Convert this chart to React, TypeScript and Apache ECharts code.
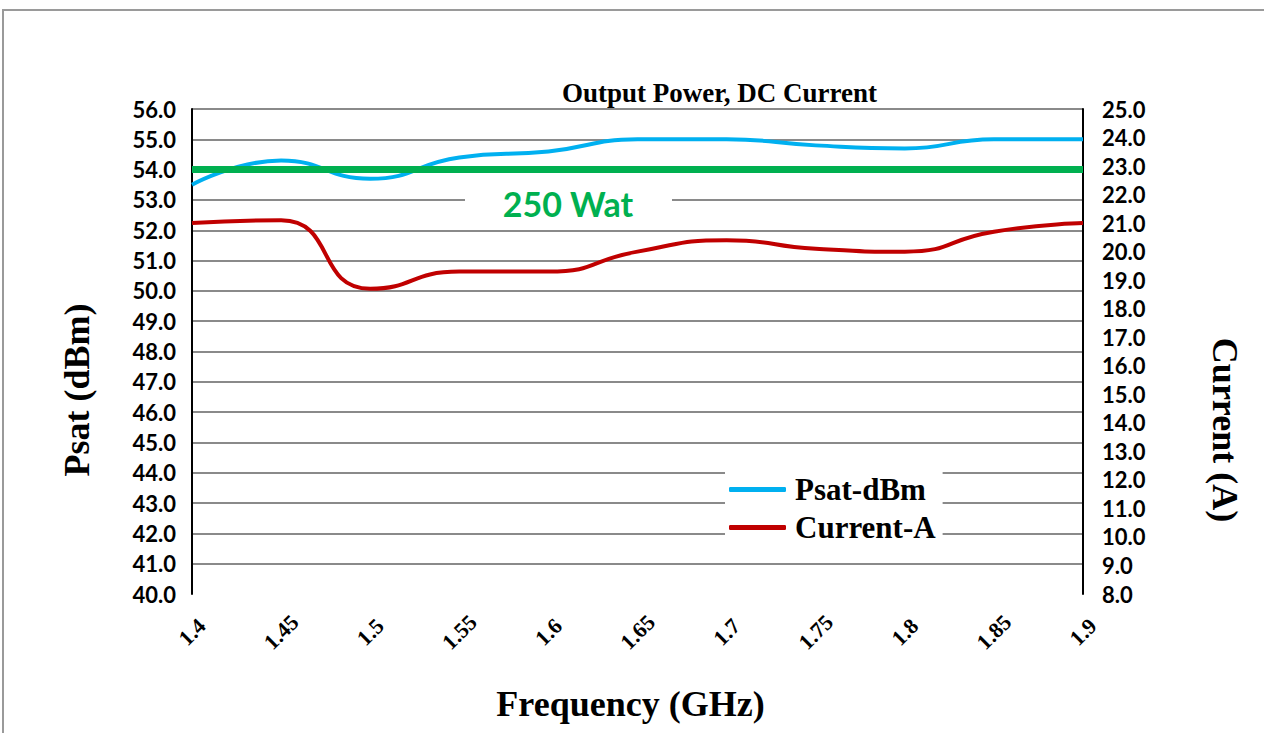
import React, { useEffect, useRef } from "react";
import * as echarts from "echarts";

const frequencies = ["1.4", "1.45", "1.5", "1.55", "1.6", "1.65", "1.7", "1.75", "1.8", "1.85", "1.9"];
const psatDbm = [53.5, 54.3, 53.7, 54.4, 54.6, 55.0, 55.0, 54.8, 54.7, 55.0, 55.0];
const currentA = [21.0, 21.1, 18.7, 19.3, 19.3, 20.0, 20.4, 20.1, 20.0, 20.7, 21.0];
const referenceLevel = 54.0;
const referenceLabel = "250 Wat";
const titleText = "Output Power, DC Current";
const leftAxisName = "Psat (dBm)";
const rightAxisName = "Current (A)";
const xAxisName = "Frequency (GHz)";
const seriesNames = ["Psat-dBm", "Current-A"];

export default function App() {
  const ref = useRef<HTMLDivElement>(null);
  useEffect(() => {
    if (!ref.current) return;
    const chart = echarts.init(ref.current, undefined, { renderer: "svg" });
    const gridColors = ["rgba(0,0,0,0)"];
    for (let i = 0; i < 16; i++) gridColors.push("#8a8a8a");
    const serifFamily = "'Liberation Serif', 'Times New Roman', serif";
    const serifBold = { fontFamily: serifFamily, fontWeight: "bold" as const, color: "#000" };
    const sansLabel = {
      fontFamily: "Lato, 'Open Sans', sans-serif",
      fontWeight: "bold" as const,
      fontSize: 22,
      color: "#000",
    };
    chart.setOption({
      animation: false,
      backgroundColor: "#fff",
      title: {
        text: titleText,
        left: 562,
        top: 79,
        padding: 0,
        textStyle: { ...serifBold, fontSize: 27 },
      },
      grid: { left: 192, right: 181, top: 109, bottom: 139 },
      legend: {
        data: seriesNames,
        orient: "vertical",
        left: 725,
        top: 469,
        backgroundColor: "#fff",
        padding: [4, 7, 6, 4],
        itemWidth: 57,
        itemHeight: 5,
        icon: "roundRect",
        itemGap: 5,
        textStyle: { ...serifBold, fontSize: 31, lineHeight: 33, padding: [0, 0, 0, 4] },
      },
      xAxis: {
        type: "category",
        data: frequencies,
        boundaryGap: false,
        axisLine: { show: false },
        axisTick: { show: false },
        axisLabel: {
          rotate: 45,
          align: "center",
          verticalAlign: "middle",
          margin: 38,
          ...serifBold,
          fontSize: 22,
        },
        name: xAxisName,
        nameLocation: "middle",
        nameGap: 92,
        nameTextStyle: { ...serifBold, fontSize: 36, padding: [0, 14, 0, 0] },
      },
      yAxis: [
        {
          type: "value",
          min: 40,
          max: 56,
          interval: 1,
          axisLine: { show: true, lineStyle: { color: "#000", width: 2 } },
          axisTick: { show: false },
          axisLabel: { formatter: (v: number) => v.toFixed(1), ...sansLabel, margin: 16 },
          splitLine: { show: true, lineStyle: { color: gridColors, width: 2 } },
        },
        {
          type: "value",
          min: 8,
          max: 25,
          interval: 1,
          position: "right",
          axisLine: { show: true, lineStyle: { color: "#000", width: 2 } },
          axisTick: { show: false },
          axisLabel: { formatter: (v: number) => v.toFixed(1), ...sansLabel, margin: 19 },
          splitLine: { show: false },
        },
      ],
      series: [
        {
          name: seriesNames[0],
          type: "line",
          data: psatDbm,
          yAxisIndex: 0,
          smooth: 0.5,
          showSymbol: false,
          lineStyle: { color: "#00B0F0", width: 4 },
          itemStyle: { color: "#00B0F0" },
          z: 2,
          markLine: {
            silent: true,
            symbol: "none",
            label: { show: false },
            lineStyle: { color: "#00B050", width: 7, type: "solid" },
            data: [{ yAxis: referenceLevel }],
            z: 3,
          },
        },
        {
          name: seriesNames[1],
          type: "line",
          data: currentA,
          yAxisIndex: 1,
          smooth: 0.55,
          showSymbol: false,
          lineStyle: { color: "#C00000", width: 4 },
          itemStyle: { color: "#C00000" },
        },
      ],
      graphic: [
        {
          type: "rect",
          z: -10,
          silent: true,
          shape: { x: 3, y: 10, width: 1300, height: 800 },
          style: { fill: "none", stroke: "#9a9a9a", lineWidth: 2 },
        },
        {
          type: "rect",
          z: 50,
          silent: true,
          shape: { x: 465, y: 190, width: 207, height: 26 },
          style: { fill: "#fff" },
        },
        {
          type: "text",
          z: 51,
          silent: true,
          x: 568,
          y: 203,
          style: {
            text: referenceLabel,
            font: "bold 34px Lato, 'Open Sans', sans-serif",
            fill: "#00B050",
            textAlign: "center",
            textVerticalAlign: "middle",
          },
        },
        {
          type: "text",
          z: 51,
          silent: true,
          x: 77,
          y: 390,
          rotation: Math.PI / 2,
          style: {
            text: leftAxisName,
            font: `bold 36px ${serifFamily}`,
            fill: "#000",
            textAlign: "center",
            textVerticalAlign: "middle",
          },
        },
        {
          type: "text",
          z: 51,
          silent: true,
          x: 1225,
          y: 430,
          rotation: -Math.PI / 2,
          style: {
            text: rightAxisName,
            font: `bold 36px ${serifFamily}`,
            fill: "#000",
            textAlign: "center",
            textVerticalAlign: "middle",
          },
        },
      ],
    });
    return () => chart.dispose();
  }, []);
  return <div ref={ref} style={{ position: "fixed", left: 0, top: 0, width: 1264, height: 733 }} />;
}
